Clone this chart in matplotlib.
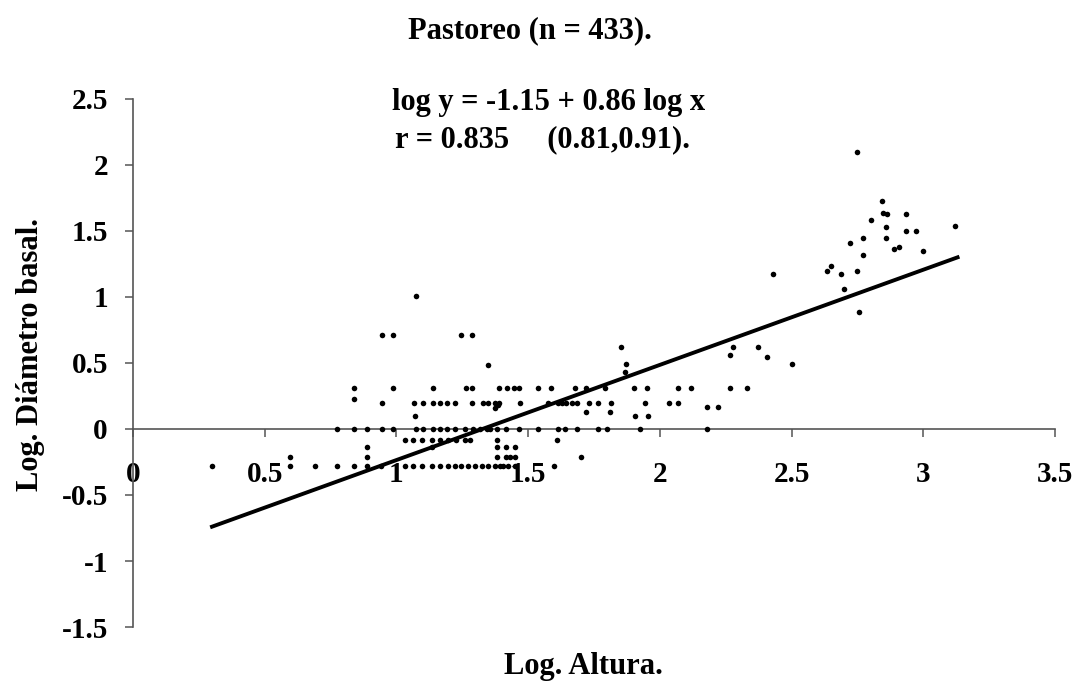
import numpy as np
import matplotlib.pyplot as plt

# points, grouped by the (quantised) log diameter rows
row_levels = [-0.28, -0.21, -0.14, -0.083, 0.0, 0.10, 0.13, 0.17, 0.20, 0.225, 0.31]
row_xs = [
    [0.30, 0.596, 0.69, 0.773, 0.84, 0.89, 0.94, 1.032, 1.064, 1.096, 1.134, 1.165,
     1.196, 1.222, 1.247, 1.272, 1.298, 1.323, 1.348, 1.374, 1.393, 1.405, 1.424, 1.45, 1.60],
    [0.596, 0.89, 1.38, 1.415, 1.433, 1.45, 1.70],
    [0.89, 1.134, 1.383, 1.415, 1.45],
    [1.032, 1.064, 1.096, 1.134, 1.165, 1.196, 1.228, 1.26, 1.28, 1.38, 1.608],
    [0.773, 0.84, 0.89, 0.944, 0.988, 1.074, 1.10, 1.137, 1.165, 1.193, 1.222, 1.26,
     1.29, 1.317, 1.342, 1.355, 1.38, 1.415, 1.466, 1.538, 1.614, 1.64, 1.686, 1.766,
     1.80, 1.924, 2.18],
    [1.07, 1.907, 1.956],
    [1.72, 1.81],
    [2.177, 2.22],
    [0.944, 1.066, 1.10, 1.137, 1.165, 1.193, 1.222, 1.288, 1.33, 1.348, 1.374, 1.39,
     1.469, 1.576, 1.614, 1.627, 1.645, 1.665, 1.686, 1.73, 1.766, 1.813, 1.943, 2.034, 2.07],
    [0.84],
    [0.84, 0.988, 1.137, 1.264, 1.285, 1.39, 1.42, 1.446, 1.466, 1.538, 1.586, 1.677,
     1.72, 1.79, 1.90, 1.95, 2.07, 2.118, 2.266, 2.33],
]

# scattered points off the rows
extra_x = [1.074, 0.944, 0.988, 1.244, 1.288, 1.348, 1.87, 1.866, 2.503,
           1.851, 2.276, 2.266, 2.374, 2.405,
           2.75, 2.845, 2.847, 2.862, 2.936, 2.80, 2.86, 2.936, 2.974, 3.12,
           2.86, 2.77, 2.72, 2.89, 2.907, 2.997, 2.77, 2.635, 2.65, 2.687,
           2.75, 2.43, 2.70, 2.756, 1.374, 1.386]
extra_y = [1.01, 0.71, 0.71, 0.71, 0.71, 0.485, 0.49, 0.43, 0.49,
           0.62, 0.62, 0.563, 0.62, 0.548,
           2.10, 1.725, 1.634, 1.629, 1.629, 1.58, 1.53, 1.50, 1.50, 1.54,
           1.45, 1.45, 1.41, 1.366, 1.38, 1.35, 1.32, 1.20, 1.235, 1.174,
           1.20, 1.17, 1.06, 0.886, 0.16, 0.18]

# regression line as drawn
fit_x = [0.30, 3.13]
fit_y = [-0.74, 1.30]

title = "Pastoreo (n = 433)."
eq_text = "log y = -1.15 + 0.86 log x"
r_text = "r = 0.835     (0.81,0.91)."
xlabel = "Log. Altura."
ylabel = "Log. Diámetro basal."
xticks = [0, 0.5, 1, 1.5, 2, 2.5, 3, 3.5]
xticklabels = ["0", "0.5", "1", "1.5", "2", "2.5", "3", "3.5"]
yticks = [-1.5, -1, -0.5, 0, 0.5, 1, 1.5, 2, 2.5]
yticklabels = ["-1.5", "-1", "-0.5", "0", "0.5", "1", "1.5", "2", "2.5"]

xs = np.concatenate([row_xs[i] for i in range(len(row_xs))] + [extra_x])
ys = np.concatenate([[row_levels[i]] * len(row_xs[i]) for i in range(len(row_xs))] + [extra_y])

plt.rcParams['font.family'] = ['Liberation Serif', 'DejaVu Serif']
plt.rcParams['font.weight'] = 'bold'

fig = plt.figure(figsize=(10.81, 6.82), dpi=100)
ax = fig.add_axes([0.123, 0.0806, 0.853, 0.7744])

ax.plot(xs, ys, 'o', color='black', markersize=4.0, markeredgewidth=0, zorder=3)
ax.plot(fit_x, fit_y, color='black', linewidth=2.8, zorder=4)

ax.set_xlim(0, 3.5)
ax.set_ylim(-1.5, 2.5)
ax.spines['top'].set_visible(False)
ax.spines['right'].set_visible(False)
ax.spines['bottom'].set_position(('data', 0))
ax.spines['bottom'].set_color('#555555')
ax.spines['left'].set_color('#555555')
ax.spines['bottom'].set_linewidth(1.2)
ax.spines['left'].set_linewidth(1.2)

ax.set_xticks(xticks, xticklabels)
ax.set_yticks(yticks, yticklabels)
ax.tick_params(axis='x', direction='out', length=6, width=1.1, color='#555555',
               pad=17, labelsize=21)
ax.tick_params(axis='y', direction='out', length=6, width=1.1, color='#555555',
               pad=12, labelsize=21)
for lab in ax.get_xticklabels() + ax.get_yticklabels():
    lab.set_fontweight('bold')

fig.text(0.49, 0.955, title, ha='center', va='center', fontsize=22, fontweight='bold')
fig.text(0.507, 0.849, eq_text, ha='center', va='center', fontsize=22, fontweight='bold')
fig.text(0.365, 0.795, r_text, ha='left', va='center', fontsize=22, fontweight='bold')
fig.text(0.540, 0.022, xlabel, ha='center', va='center', fontsize=22, fontweight='bold')
fig.text(0.028, 0.48, ylabel, ha='center', va='center', rotation=90,
         fontsize=22, fontweight='bold')

fig.savefig("out.png", dpi=100)
